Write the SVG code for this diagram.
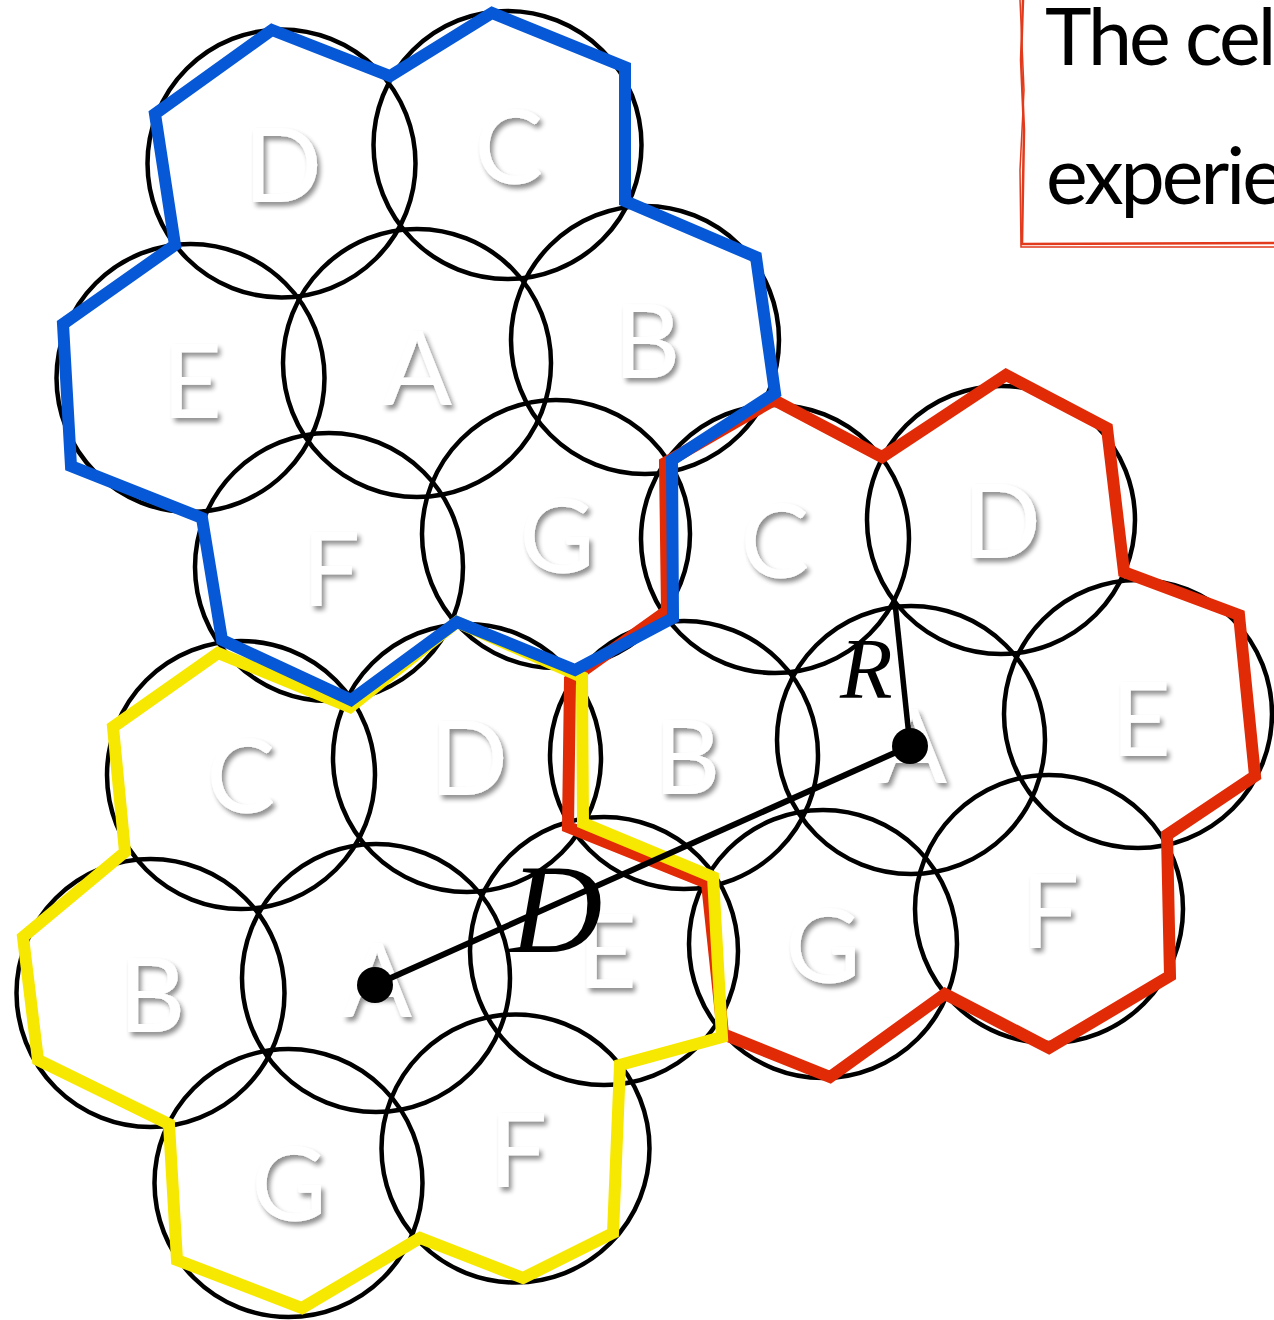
<svg xmlns="http://www.w3.org/2000/svg" width="1274" height="1320" viewBox="0 0 1274 1320">
<defs>
<filter id="sh" x="-30%" y="-30%" width="160%" height="160%">
<feGaussianBlur in="SourceAlpha" stdDeviation="2.4"/>
<feOffset dx="3" dy="4" result="b"/>
<feComponentTransfer><feFuncA type="linear" slope="0.45"/></feComponentTransfer>
<feMerge><feMergeNode/><feMergeNode in="SourceGraphic"/></feMerge>
</filter>
</defs>
<style>
.c{fill:none;stroke:#000;stroke-width:4.5}
.hex{fill:none;stroke-width:12;stroke-linejoin:miter;stroke-miterlimit:10}
.blue{stroke:#0658d6}
.red{stroke:#e12a06}
.yel{stroke:#f6e800}
.lt{font-family:Lato,"Open Sans",sans-serif;font-size:103px;fill:#fff;text-anchor:middle;filter:url(#sh)}
.math{font-family:"Liberation Serif",serif;font-style:italic;fill:#000}
.box{fill:none;stroke:#e23a1c}
.bt{font-family:Lato,"Open Sans",sans-serif;font-size:79px;fill:#000;letter-spacing:-3px}
</style>
<rect width="1274" height="1320" fill="#fff"/>

<g id="textbox">
<path class="box" stroke-width="2.5" d="M1023,0 L1021,60 L1024,130 L1022,244 L1274,243"/>
<path class="box" stroke-width="1.5" d="M1020,0 L1024,90 L1020,170 L1021,247 L1274,247"/>
<text class="bt" x="1045" y="65">The cel</text>
<text class="bt" x="1046" y="204">experie</text>
</g>

<g id="circles">
<g id="blue-cells">
<circle class="c" cx="281.5" cy="163.5" r="134"/>
<circle class="c" cx="507.5" cy="145" r="134"/>
<circle class="c" cx="190.5" cy="378" r="134"/>
<circle class="c" cx="417" cy="363" r="134"/>
<circle class="c" cx="645" cy="340" r="134"/>
<circle class="c" cx="329" cy="567" r="134"/>
<circle class="c" cx="556" cy="534" r="134"/>
</g>
<g id="red-cells">
<circle class="c" cx="775" cy="539" r="134"/>
<circle class="c" cx="1001" cy="520" r="134"/>
<circle class="c" cx="684" cy="755" r="134"/>
<circle class="c" cx="911" cy="740" r="134"/>
<circle class="c" cx="1138" cy="714" r="134"/>
<circle class="c" cx="823" cy="944" r="134"/>
<circle class="c" cx="1049" cy="909" r="134"/>
</g>
<g id="yellow-cells">
<circle class="c" cx="241" cy="775" r="134"/>
<circle class="c" cx="467" cy="758" r="134"/>
<circle class="c" cx="150.5" cy="993" r="134"/>
<circle class="c" cx="376" cy="978" r="134"/>
<circle class="c" cx="604" cy="951" r="134"/>
<circle class="c" cx="288.5" cy="1183" r="134"/>
<circle class="c" cx="515.5" cy="1148.5" r="134"/>
</g>
</g>

<g id="clusters">
<polygon id="red-cluster" class="hex red" points="774,400 882,457 1006,375 1107,428 1124,572 1239,615 1255,776 1167,835 1170,976 1049,1048 945,994 830,1077 723,1034 707,883 568,827 570,680 667,611 665,463"/>
<polygon id="yellow-cluster" class="hex yel" points="218,653 350,707 457,622 582,677 583,823 713,877 722,1037 620,1065 613,1233 523,1278 420,1238 302,1308 177,1260 169,1124 38,1060 23,937 125,852 113,727"/>
<polygon id="blue-cluster" class="hex blue" points="272,30 390,76 492,13 625,67 625,201 756,257 775,393 672,460 673,618 575,670 457,622 351,700 222,640 202,518 71,466 63,324 175,245 155,114"/>
</g>

<g id="labels">
<text class="lt" x="283" y="202">D</text>
<text class="lt" x="509" y="184">C</text>
<text class="lt" x="192" y="418">E</text>
<text class="lt" x="417" y="405">A</text>
<text class="lt" x="647" y="378">B</text>
<text class="lt" x="331" y="606">F</text>
<text class="lt" x="557" y="573">G</text>

<text class="lt" x="775" y="578">C</text>
<text class="lt" x="1002" y="558">D</text>
<text class="lt" x="687" y="794">B</text>
<text class="lt" x="912" y="783">A</text>
<text class="lt" x="1141" y="756">E</text>
<text class="lt" x="823" y="983">G</text>
<text class="lt" x="1050" y="948">F</text>

<text class="lt" x="241" y="813">C</text>
<text class="lt" x="469" y="795">D</text>
<text class="lt" x="152" y="1032">B</text>
<text class="lt" x="377" y="1017">A</text>
<text class="lt" x="607" y="988">E</text>
<text class="lt" x="289" y="1221">G</text>
<text class="lt" x="518" y="1187">F</text>
</g>

<g id="connectors">
<line x1="375" y1="985" x2="910" y2="746" stroke="#000" stroke-width="6"/>
<line x1="895" y1="603" x2="910" y2="746" stroke="#000" stroke-width="5.5"/>
<circle cx="375" cy="985" r="18" fill="#000"/>
<circle cx="910" cy="746" r="18" fill="#000"/>
<text class="math" x="840" y="698" font-size="86">R</text>
<text class="math" x="510" y="952" font-size="128">D</text>
</g>
</svg>
